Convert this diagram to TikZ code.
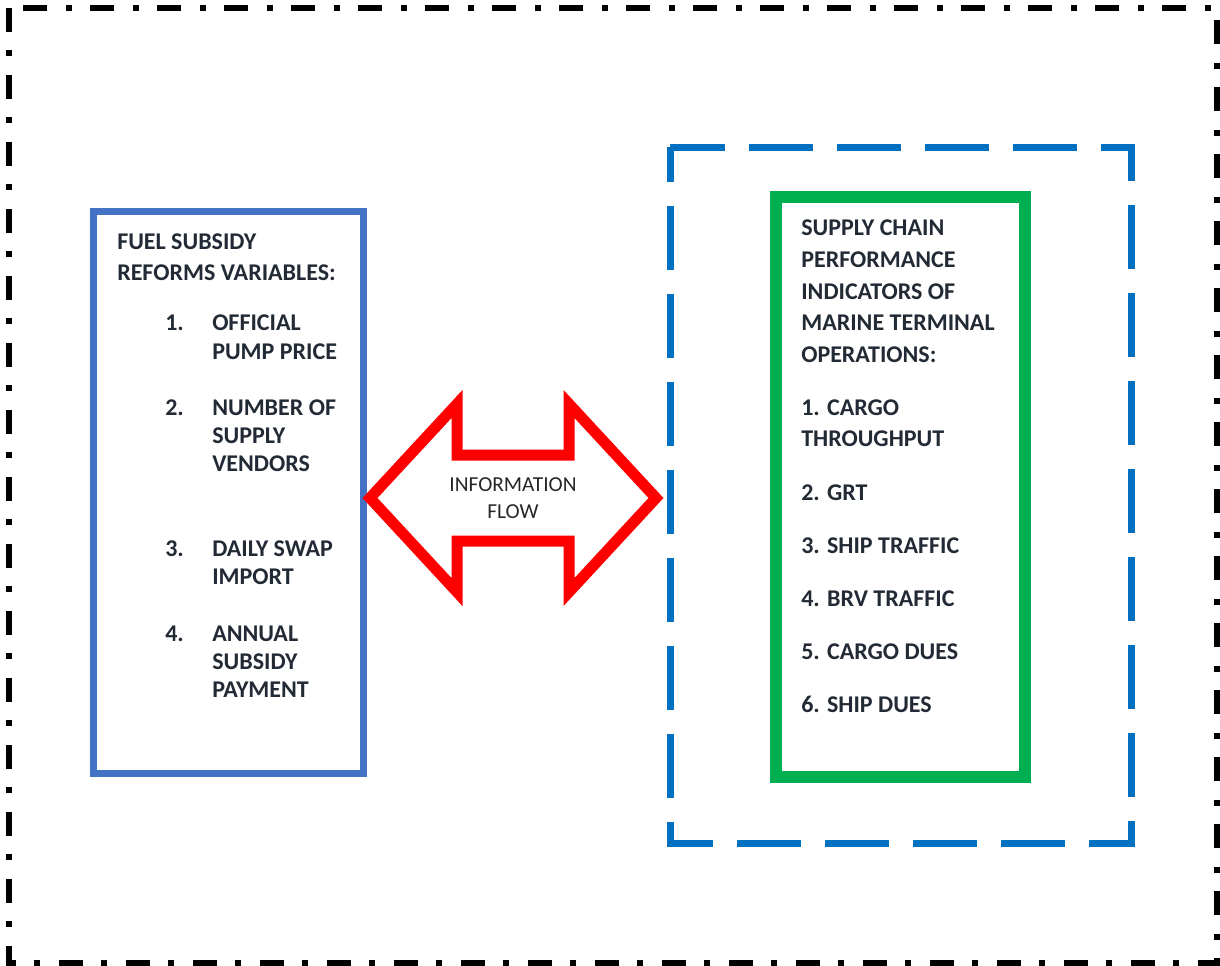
\documentclass[tikz,border=0pt]{standalone}
\usepackage{fontspec}
\setmainfont{Carlito}
\usetikzlibrary{positioning}
\definecolor{ink}{HTML}{222A35}
\definecolor{reformblue}{HTML}{4472C4}
\definecolor{groupblue}{HTML}{0070C0}
\definecolor{kpigreen}{HTML}{00B050}
\definecolor{flowred}{HTML}{FF0000}

\begin{document}
\begin{tikzpicture}[x=0.75pt,y=-0.75pt,
every node/.style={inner sep=0pt,anchor=base west,text=ink,
	font=\bfseries\fontsize{18}{22}\selectfont},
outerframe/.style={draw=black,line width=4.5pt,
	dash pattern=on 18pt off 13.5pt on 4.5pt off 14.25pt},
groupframe/.style={draw=groupblue,line width=5.25pt,
	dash pattern=on 48pt off 18pt,dash phase=21.75pt},
reformbox/.style={draw=reformblue,line width=5.25pt},
kpibox/.style={draw=kpigreen,line width=9pt},
flowarrow/.style={draw=flowred,line width=8.25pt,miter limit=4},
flowtext/.style={anchor=center,align=center,text=black!85,
	font=\fontsize{16}{20.7}\selectfont}]
\useasboundingbox (0,0) rectangle (1220,965);

%frames
\draw[outerframe] (9,8) rectangle (1217,963);
\draw[groupframe] (670,147) rectangle (1131,843);
\draw[reformbox] (93,211) rectangle (363,773);
\draw[kpibox] (776,197) rectangle (1025,777);

%left box: reforms variables
\node (fuel) at (117,249) {FUEL SUBSIDY};
\node (reforms) at (117,280) {REFORMS VARIABLES:};
\foreach \n/\y in {1./330,2./415,3./556,4./641}
	\node (n\n) at (165,\y) {\n};
\foreach \y/\t [count=\i] in {330/OFFICIAL,359/PUMP PRICE,415/NUMBER OF,443/SUPPLY,
	471/VENDORS,556/DAILY SWAP,584/IMPORT,641/ANNUAL,669/SUBSIDY,697/PAYMENT}
	\node (v\i) at (212,\y) {\t};

%right box: performance indicators
\foreach \y/\t [count=\i] in {235/SUPPLY CHAIN,267/PERFORMANCE,299/INDICATORS OF,
	330/MARINE TERMINAL,362/OPERATIONS:}
	\node (h\i) at (801,\y) {\t};
\foreach \y/\t [count=\i] in {415/1. CARGO,446/THROUGHPUT,500/2. GRT,553/3. SHIP TRAFFIC,
	606/4. BRV TRAFFIC,659/5. CARGO DUES,712/6. SHIP DUES}
	\node (k\i) at (801,\y) {\t};

%two-way arrow
\draw[flowarrow] (370,498) -- (457,404) -- (457,455) -- (569,455) -- (569,404)
	-- (656,498) -- (569,592) -- (569,541) -- (457,541) -- (457,592) -- cycle;
\node[flowtext] (flow) at (513,498) {INFORMATION\\FLOW};
\end{tikzpicture}
\end{document}
